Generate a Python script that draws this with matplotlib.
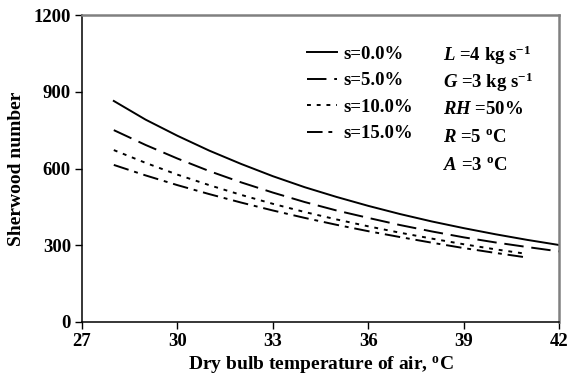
import numpy as np
import matplotlib
matplotlib.use("Agg")
import matplotlib.pyplot as plt

plt.rcParams['font.family'] = 'Liberation Serif'
plt.rcParams['font.weight'] = 'bold'
plt.rcParams['mathtext.fontset'] = 'custom'
plt.rcParams['mathtext.rm'] = 'Liberation Serif:bold'
plt.rcParams['mathtext.it'] = 'Liberation Serif:italic'
plt.rcParams['mathtext.bf'] = 'Liberation Serif:bold'

# dry bulb temperature, deg C
temp = [28, 29, 30, 31, 32, 33, 34, 35, 36, 37, 38, 39, 40, 41, 42]
temp_short = temp[:-1]

# Sherwood number for each slope s
sh_s00 = [864, 791, 728, 670, 618, 570, 527, 489, 454, 422, 393, 367, 343, 321, 301]
sh_s05 = [750, 692, 639, 590, 546, 506, 469, 436, 407, 379, 354, 331, 311, 293, 276]
sh_s10 = [672, 622, 576, 535, 497, 462, 430, 401, 374, 349, 326, 304, 284, 266]
sh_s15 = [614, 573, 535, 500, 467, 436, 407, 380, 355, 332, 310, 289, 270, 252]

labels = ['s=0.0%', 's=5.0%', 's=10.0%', 's=15.0%']
xticks = [27, 30, 33, 36, 39, 42]
yticks = [0, 300, 600, 900, 1200]

notes = [r'$\mathit{L}$ =4 kg s$^{\mathbf{-1}}$',
         r'$\mathit{G}$ =3 kg s$^{\mathbf{-1}}$',
         r'$\mathit{RH}$ =50%',
         r'$\mathit{R}$ =5 $^{\mathbf{o}}$C',
         r'$\mathit{A}$ =3 $^{\mathbf{o}}$C']

fig = plt.figure(figsize=(5.71, 3.84), dpi=100)
ax = fig.add_axes([82/571, 1 - 322/384, 477/571, 307/384])

lw = 1.4
ax.plot(temp, sh_s00, color='black', lw=lw, linestyle='-', label=labels[0])
ax.plot(temp, sh_s05, color='black', lw=lw, linestyle=(0, (10, 4)), label=labels[1])
ax.plot(temp_short, sh_s10, color='black', lw=lw, linestyle=(0, (2, 3)), label=labels[2])
ax.plot(temp_short, sh_s15, color='black', lw=lw, linestyle=(0, (8, 3, 2, 3)), label=labels[3])

ax.set_xlim(27, 42)
ax.set_ylim(0, 1200)
ax.set_xticks(xticks)
ax.set_yticks(yticks)
ax.tick_params(direction='out', length=5, width=1, labelsize=13.5, pad=3)
for lab in ax.get_xticklabels() + ax.get_yticklabels():
    lab.set_fontweight('bold')

for side in ['top', 'right']:
    ax.spines[side].set_color('#808080')
    ax.spines[side].set_linewidth(1.8)
for side in ['left', 'bottom']:
    ax.spines[side].set_linewidth(1.1)

ax.set_xlabel(r'Dry bulb temperature of air, $^{\mathbf{o}}$C', fontsize=14, fontweight='bold', labelpad=3)
ax.set_ylabel('Sherwood number', fontsize=14, fontweight='bold', labelpad=6)

leg = ax.legend(loc='upper left', bbox_to_anchor=(0.437, 0.955), frameon=False,
                handlelength=1.6, handletextpad=0.3, labelspacing=0.5,
                prop={'family': 'Liberation Serif', 'weight': 'bold', 'size': 13.5})

note_y = [55, 82, 109, 138, 165]
for txt, yp in zip(notes, note_y):
    ax.text((443 - 82) / 477, (322 - yp) / 307, txt, transform=ax.transAxes,
            ha='left', va='center', fontsize=13.5, fontweight='bold')

fig.savefig('out.png', dpi=100)
